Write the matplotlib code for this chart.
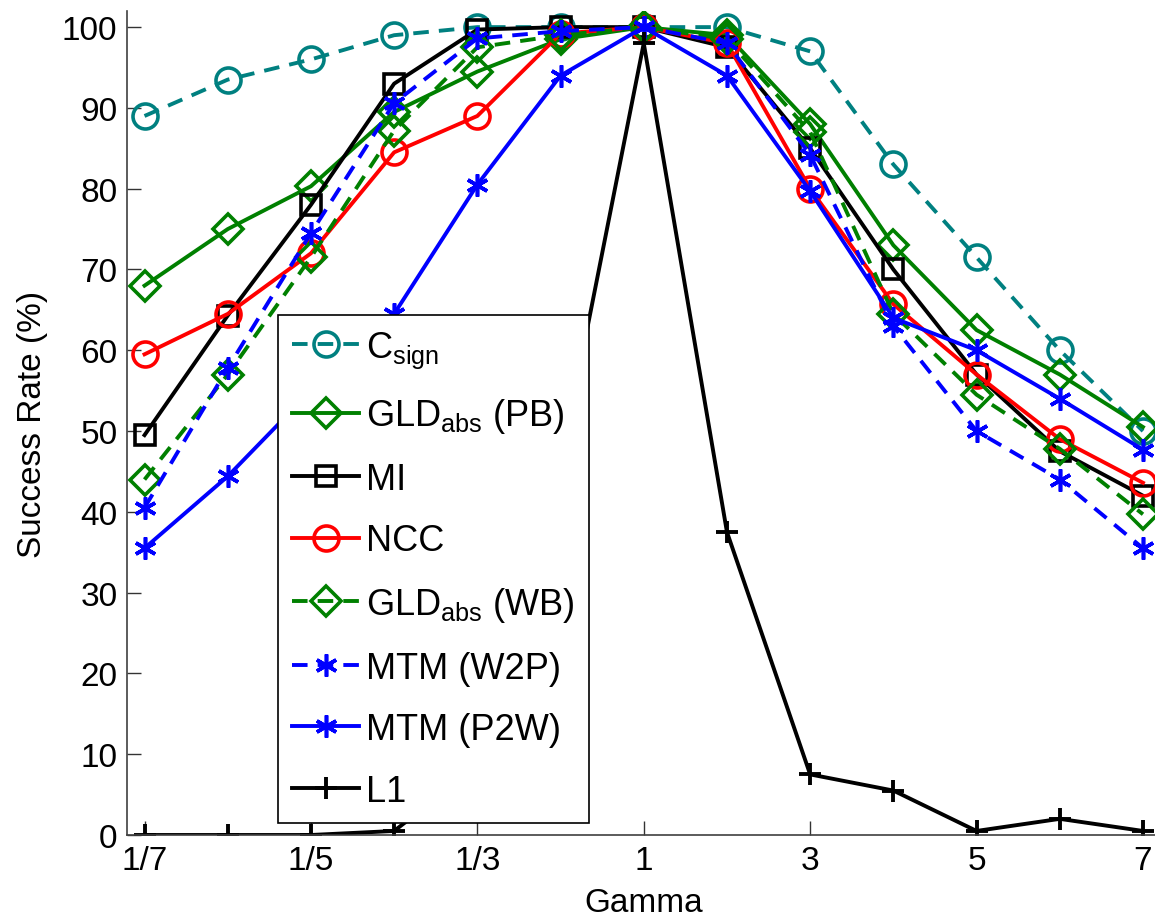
import numpy as np
import matplotlib
matplotlib.use("Agg")
import matplotlib.pyplot as plt

plt.rcParams['font.family'] = ['Liberation Sans', 'DejaVu Sans']
plt.rcParams['mathtext.fontset'] = 'custom'
plt.rcParams['mathtext.rm'] = 'Liberation Sans'
plt.rcParams['mathtext.it'] = 'Liberation Sans'

gamma = ['1/7', '1/6', '1/5', '1/4', '1/3', '1/2', '1', '2', '3', '4', '5', '6', '7']
tick_labels = ['1/7', '1/5', '1/3', '1', '3', '5', '7']

c_sign = [89, 93.5, 96, 99, 100, 100, 100, 100, 97, 83, 71.5, 60, 50]
gld_pb = [68, 75, 80.3, 89.5, 94.5, 98.5, 100, 99, 88, 73, 62.5, 57, 50.5]
mi = [49.5, 64.3, 78, 93, 99.7, 100, 100, 97.5, 85, 70, 57, 47.5, 42]
ncc = [59.5, 64.5, 72, 84.5, 89, 99.2, 100, 98, 80, 65.7, 57, 49, 43.6]
gld_wb = [44, 57, 71.5, 87.2, 97.5, 99, 100, 98.5, 87, 64.5, 54.5, 47.8, 39.7]
mtm_w2p = [40.5, 57.8, 74.5, 90.6, 98.6, 99.5, 100, 98, 84.2, 63, 50, 44, 35.5]
mtm_p2w = [35.5, 44.4, 55, 64.5, 80.5, 94, 100, 94, 79.7, 64, 60, 54, 47.7]
l1 = [0, 0, 0, 0.5, 8.5, 46, 98, 37.5, 7.5, 5.5, 0.5, 2, 0.5]

x = np.arange(len(gamma))
teal = '#008080'
green = '#008000'
lw = 2.8
dash = (4, 2.6)
star = (6, 2, 0)

fig = plt.figure(figsize=(11.55, 9.2), dpi=100)
ax = fig.add_axes([0.110, 0.0913, 0.894, 0.8957])

ax.plot(x, c_sign, '--', color=teal, lw=lw, dashes=dash, marker='o', ms=18,
        mfc='none', mew=2.6, label=r'C$_{\mathrm{sign}}$')
ax.plot(x, gld_pb, '-', color=green, lw=lw, marker='D', ms=15,
        mfc='none', mew=2.6, label=r'GLD$_{\mathrm{abs}}$ (PB)')
ax.plot(x, mi, '-', color='k', lw=lw, marker='s', ms=15,
        mfc='none', mew=2.6, label='MI')
ax.plot(x, ncc, '-', color='r', lw=lw, marker='o', ms=18,
        mfc='none', mew=2.6, label='NCC')
ax.plot(x, gld_wb, '--', color=green, lw=lw, dashes=dash, marker='D', ms=15,
        mfc='none', mew=2.6, label=r'GLD$_{\mathrm{abs}}$ (WB)')
ax.plot(x, mtm_w2p, '--', color='b', lw=lw, dashes=dash, marker=star, ms=16,
        mew=2.6, label='MTM (W2P)')
ax.plot(x, mtm_p2w, '-', color='b', lw=lw, marker=star, ms=16,
        mew=2.6, label='MTM (P2W)')
ax.plot(x, l1, '-', color='k', lw=lw, marker='+', ms=16,
        mew=2.8, label='L1')

ax.set_xlim(-0.21, 12.2)
ax.set_ylim(0, 102)
ax.set_xticks(x[::2])
ax.set_xticklabels(tick_labels)
ax.set_yticks(np.arange(0, 101, 10))
ax.tick_params(direction='in', length=10, width=1, labelsize=24,
               colors='0.2', labelcolor='k', pad=7)
for side in ['top', 'right']:
    ax.spines[side].set_visible(False)
for side in ['left', 'bottom']:
    ax.spines[side].set_color('0.25')
    ax.spines[side].set_linewidth(1.2)

ax.set_xlabel('Gamma', fontsize=24, labelpad=8)
ax.set_ylabel('Success Rate (%)', fontsize=24, labelpad=10)

leg = ax.legend(loc='upper left', bbox_to_anchor=(278 / 1155, 1 - 316 / 920),
                bbox_transform=fig.transFigure, borderaxespad=0,
                fontsize=26, handlelength=1.85, handletextpad=0.2,
                labelspacing=0.735, borderpad=0.4, fancybox=False,
                framealpha=1, edgecolor='k')
leg.get_frame().set_linewidth(1.2)

fig.savefig('out.png', dpi=100)
